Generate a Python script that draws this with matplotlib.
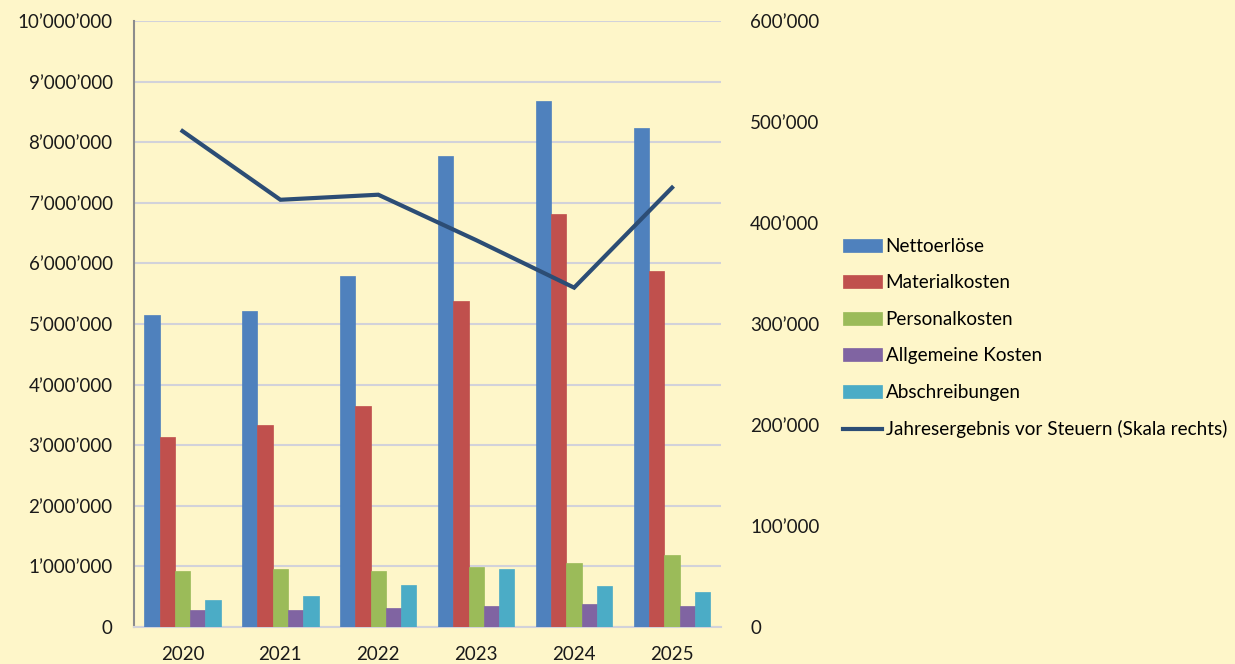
import matplotlib
matplotlib.use("Agg")
import matplotlib.pyplot as plt
import numpy as np
from matplotlib.ticker import FuncFormatter, MultipleLocator

years = ["2020", "2021", "2022", "2023", "2024", "2025"]
nettoerloese = [5150000, 5210000, 5790000, 7770000, 8680000, 8230000]
materialkosten = [3130000, 3330000, 3650000, 5380000, 6820000, 5870000]
personalkosten = [920000, 960000, 920000, 990000, 1060000, 1190000]
allgemeine = [280000, 280000, 320000, 350000, 380000, 350000]
abschreibungen = [450000, 510000, 700000, 960000, 670000, 580000]
jahresergebnis = [491000, 423000, 428000, 383000, 336000, 435000]

series = [
    ("Nettoerlöse", nettoerloese, "#4F81BD"),
    ("Materialkosten", materialkosten, "#C0504D"),
    ("Personalkosten", personalkosten, "#9BBB59"),
    ("Allgemeine Kosten", allgemeine, "#8064A2"),
    ("Abschreibungen", abschreibungen, "#4BACC6"),
]
line_label = "Jahresergebnis vor Steuern (Skala rechts)"
line_color = "#2C4D75"

bg = "#FEF6C9"
plt.rcParams['font.family'] = ['Lato', 'DejaVu Sans']

fig = plt.figure(figsize=(12.35, 6.64), dpi=100, facecolor=bg)
ax = fig.add_axes([133.5/1235, 1-627/664, (721-133.5)/1235, (627-21)/664])
ax.set_facecolor(bg)

x = np.arange(len(years))
w = 0.156
handles = []
for i, (name, vals, col) in enumerate(series):
    b = ax.bar(x + (i-2)*w, vals, w, color=col, edgecolor=col, linewidth=0.5, label=name, zorder=3)
    handles.append(b)

ax.set_xlim(-0.5, len(years)-0.5)
ax.set_ylim(0, 10000000)
ax.yaxis.set_major_locator(MultipleLocator(1000000))
fmt = FuncFormatter(lambda v, p: f"{int(round(v)):,}".replace(",", "\u2019"))
ax.yaxis.set_major_formatter(fmt)
ax.set_xticks(x)
ax.set_xticklabels(years)
ax.grid(axis='y', color="#D2D2DA", linewidth=1.5, zorder=0)
ax.tick_params(axis='both', length=0, labelsize=13.5, colors="#1a1a1a")
ax.tick_params(axis='y', pad=15)
ax.tick_params(axis='x', pad=14)
for s in ['top', 'right']:
    ax.spines[s].set_visible(False)
ax.spines['left'].set_color("#8c8c8c")
ax.spines['left'].set_linewidth(1.5)
ax.spines['bottom'].set_color("#D2D2DA")
ax.spines['bottom'].set_linewidth(1.5)

ax2 = ax.twinx()
ln, = ax2.plot(x, jahresergebnis, color=line_color, linewidth=3, label=line_label, zorder=5,
               solid_joinstyle='miter')
ax2.set_ylim(0, 600000)
ax2.yaxis.set_major_locator(MultipleLocator(100000))
ax2.yaxis.set_major_formatter(fmt)
ax2.tick_params(axis='y', length=0, labelsize=13.5, pad=21, colors="#1a1a1a")
for s in ['top', 'right', 'left', 'bottom']:
    ax2.spines[s].set_visible(False)

fig.legend(handles + [ln], [s[0] for s in series] + [line_label],
           loc='upper left', bbox_to_anchor=(843/1235, 1-238/664),
           frameon=False, fontsize=13.6, handlelength=2.05, handletextpad=0.2,
           labelspacing=1.03, borderpad=0, borderaxespad=0)

fig.savefig("out.png", dpi=100, facecolor=bg)
